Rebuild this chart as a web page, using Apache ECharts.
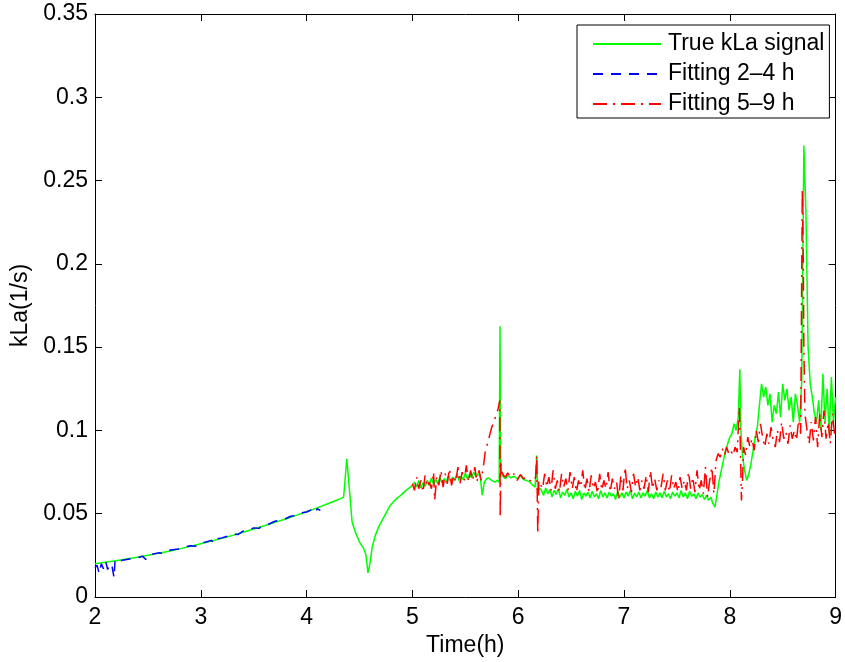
<!DOCTYPE html>
<html>
<head>
<meta charset="utf-8">
<title>kLa estimation</title>
<script src="https://cdn.jsdelivr.net/npm/echarts@6/dist/echarts.min.js"></script>
<style>
  html, body { margin: 0; padding: 0; background: #fff; }
  #chart { width: 845px; height: 662px; }
</style>
</head>
<body>
<div id="chart"></div>
<script>
// Axis ticks
const xTicks = [2, 3, 4, 5, 6, 7, 8, 9];
const yTickLabels = ['0', '0.05', '0.1', '0.15', '0.2', '0.25', '0.3', '0.35'];

// True kLa signal (time in h, kLa in 1/s)
const trueTime = [
  2.0, 2.1, 2.2, 2.3, 2.4, 2.5, 2.6, 2.7, 2.8, 2.9, 3.0, 3.1, 3.2, 3.3, 3.4, 3.5, 3.6, 3.7, 3.8, 3.9, 4.0, 4.1, 4.2, 4.3, 4.35,
  4.36, 4.38, 4.40, 4.43, 4.46, 4.50, 4.54, 4.56, 4.58, 4.60, 4.62, 4.65, 4.68, 4.73, 4.79, 4.84, 4.89, 4.94, 4.98,
  5.00, 5.02, 5.04, 5.06, 5.08, 5.10, 5.12, 5.14, 5.16, 5.18, 5.20, 5.22, 5.24, 5.26, 5.28, 5.30, 5.32, 5.34, 5.36, 5.38,
  5.40, 5.42, 5.44, 5.46, 5.48, 5.50, 5.52, 5.54, 5.56, 5.58, 5.60, 5.62, 5.64,
  5.66, 5.68, 5.70, 5.72, 5.75, 5.78, 5.80, 5.82, 5.828, 5.834, 5.84, 5.86, 5.88, 5.90, 5.93, 5.96, 5.99, 6.02, 6.05, 6.08,
  6.11, 6.14, 6.16, 6.175, 6.185, 6.20,
  6.22, 6.24, 6.26, 6.28, 6.30, 6.32, 6.34, 6.36, 6.38, 6.40, 6.42, 6.44, 6.46, 6.48, 6.50, 6.52, 6.54, 6.56, 6.58, 6.60,
  6.62, 6.64, 6.66, 6.68, 6.70, 6.72, 6.74, 6.76, 6.78, 6.80, 6.82, 6.84, 6.86, 6.88, 6.90, 6.92, 6.94, 6.96, 6.98, 7.00,
  7.02, 7.04, 7.06, 7.08, 7.10, 7.12, 7.14, 7.16, 7.18, 7.20, 7.22, 7.24, 7.26, 7.28, 7.30, 7.32, 7.34, 7.36, 7.38, 7.40,
  7.42, 7.44, 7.46, 7.48, 7.50, 7.52, 7.54, 7.56, 7.58, 7.60, 7.62, 7.64, 7.66, 7.68, 7.70, 7.72, 7.74, 7.76, 7.78, 7.80,
  7.82, 7.84, 7.86, 7.88, 7.90, 7.92, 7.94, 7.96, 7.98, 8.00, 8.02, 8.04, 8.06, 8.08, 8.095, 8.105, 8.12, 8.14, 8.16, 8.18,
  8.20, 8.22, 8.24, 8.26, 8.28, 8.30, 8.32, 8.34, 8.36, 8.38, 8.40, 8.42, 8.44, 8.46, 8.48, 8.50, 8.52, 8.54, 8.56, 8.58,
  8.60, 8.62, 8.64, 8.66, 8.68, 8.70, 8.72, 8.73, 8.74, 8.76, 8.78, 8.80, 8.82, 8.84, 8.86, 8.88, 8.90, 8.92, 8.94, 8.96,
  8.98, 9.00
];
const trueKla = [
  .0200, .0208, .0218, .0228, .0238, .0250, .0262, .0275, .0289, .0304, .0320, .0336, .0352, .0370, .0389, .0408, .0428, .0448, .0468, .0490, .0512, .0535, .0560, .0585, .0600,
  .0605, .0830, .0680, .0450, .0390, .0330, .0290, .0255, .0145, .0205, .0300, .0370, .0420, .0480, .0550, .0585, .0610, .0640, .0660,
  .0670, .0690, .0660, .0700, .0655, .0685, .0665, .0700, .0670, .0715, .0675, .0705, .0680, .0720, .0685, .0710, .0690, .0730, .0695, .0720,
  .0700, .0740, .0700, .0725, .0705, .0745, .0710, .0735, .0715, .0750, .0720, .0740, .0725,
  .0612, .0690, .0710, .0715, .0700, .0690, .0700, .0690, .1625, .0800, .0760, .0720, .0710, .0730, .0715, .0725, .0710, .0730, .0705, .0700,
  .0690, .0670, .0660, .0850, .0620, .0655,
  .0640, .0610, .0655, .0620, .0645, .0600, .0640, .0615, .0650, .0595, .0630, .0610, .0645, .0600, .0625, .0590, .0635, .0605, .0640, .0585,
  .0625, .0605, .0630, .0595, .0635, .0600, .0620, .0590, .0640, .0600, .0625, .0595, .0630, .0605, .0620, .0585, .0635, .0600, .0625, .0595,
  .0630, .0605, .0640, .0590, .0625, .0600, .0630, .0595, .0625, .0605, .0640, .0595, .0620, .0590, .0630, .0600, .0625, .0595, .0635, .0600,
  .0620, .0590, .0630, .0605, .0625, .0595, .0640, .0600, .0625, .0590, .0635, .0605, .0620, .0590, .0625, .0600, .0615, .0585, .0610, .0580,
  .0600, .0560, .0540, .0620, .0700, .0760, .0820, .0880, .0920, .0960, .0980, .1040, .1000, .1080, .1367, .1000, .0850, .0760, .0700, .0740,
  .0800, .0880, .0960, .1020, .1150, .1280, .1200, .1260, .1150, .1220, .1050, .1150, .1100, .1230, .1080, .1280, .1180, .1250, .1120, .1200,
  .1050, .1220, .1150, .1050, .1300, .2710, .2300, .1900, .1500, .1280, .1200, .1100, .1050, .1180, .1000, .1340, .1050, .1250, .0980, .1320,
  .1050, .1200
];

// Fitted estimate, 2-4 h window
const fitATime = [
  2.00, 2.02, 2.04, 2.06, 2.08, 2.10, 2.12, 2.14, 2.16, 2.18, 2.19, 2.22, 2.26, 2.30, 2.35, 2.40, 2.45, 2.48, 2.50, 2.55,
  2.60, 2.65, 2.70, 2.75, 2.80, 2.85, 2.90, 2.95, 3.00, 3.05, 3.10, 3.13, 3.16, 3.20, 3.25, 3.30, 3.35, 3.40, 3.45, 3.50,
  3.55, 3.60, 3.65, 3.70, 3.75, 3.80, 3.85, 3.90, 3.95, 4.00, 4.05, 4.08, 4.10, 4.13
];
const fitAKla = [
  .0175, .0190, .0140, .0200, .0170, .0215, .0165, .0200, .0190, .0115, .0225, .0215, .0220, .0225, .0232, .0235, .0245, .0225, .0250, .0258,
  .0265, .0262, .0280, .0285, .0288, .0300, .0308, .0305, .0325, .0330, .0340, .0322, .0350, .0355, .0365, .0378, .0375, .0395, .0400, .0415,
  .0412, .0435, .0440, .0455, .0460, .0470, .0485, .0490, .0505, .0510, .0525, .0505, .0530, .0520
];

// Fitted estimate, 5-9 h window
const fitBTime = [
  5.00, 5.02, 5.04, 5.06, 5.08, 5.10, 5.12, 5.14, 5.16, 5.18, 5.20, 5.21, 5.23, 5.25, 5.27, 5.29, 5.31, 5.33, 5.35, 5.37,
  5.39, 5.41, 5.43, 5.45, 5.47, 5.49, 5.51, 5.53, 5.55, 5.57, 5.59, 5.61, 5.63, 5.65, 5.67,
  5.69, 5.71, 5.73, 5.75, 5.77, 5.79, 5.81, 5.82, 5.826, 5.83, 5.836, 5.84, 5.86, 5.88, 5.90, 5.93, 5.96, 5.99, 6.02, 6.05,
  6.08, 6.11, 6.14, 6.165, 6.175, 6.185, 6.195,
  6.21, 6.23, 6.25, 6.27, 6.29, 6.31, 6.33, 6.35, 6.37, 6.39, 6.41, 6.43, 6.45, 6.47, 6.49, 6.51, 6.53, 6.55, 6.57, 6.59,
  6.61, 6.63, 6.65, 6.67, 6.69, 6.71, 6.73, 6.75, 6.77, 6.79, 6.81, 6.83, 6.85, 6.87, 6.89, 6.91, 6.93, 6.95, 6.97, 6.99,
  7.01, 7.03, 7.05, 7.07, 7.09, 7.11, 7.13, 7.15, 7.17, 7.19, 7.21, 7.23, 7.25, 7.27, 7.29, 7.31, 7.33, 7.35, 7.37, 7.39,
  7.41, 7.43, 7.45, 7.47, 7.49, 7.51, 7.53, 7.55, 7.57, 7.59, 7.61, 7.63, 7.65, 7.67, 7.69, 7.71, 7.73, 7.75, 7.77, 7.79,
  7.81, 7.83, 7.85, 7.87, 7.89, 7.91, 7.93, 7.95, 7.97, 7.99, 8.01, 8.03, 8.05, 8.07, 8.09, 8.10, 8.11, 8.12, 8.13, 8.15,
  8.17, 8.19, 8.21, 8.23, 8.25, 8.27, 8.29, 8.31, 8.33, 8.35, 8.37, 8.39, 8.41, 8.43, 8.45, 8.47, 8.49, 8.51, 8.53, 8.55,
  8.57, 8.59, 8.61, 8.63, 8.65, 8.67, 8.685, 8.695, 8.70, 8.71, 8.73, 8.75, 8.77, 8.79, 8.81, 8.83, 8.85, 8.87, 8.89, 8.91,
  8.93, 8.95, 8.97, 8.99, 9.00
];
const fitBKla = [
  .0680, .0640, .0720, .0650, .0700, .0630, .0730, .0660, .0690, .0650, .0750, .0580, .0720, .0670, .0760, .0660, .0740, .0680, .0770, .0670,
  .0730, .0690, .0780, .0680, .0750, .0700, .0790, .0690, .0760, .0700, .0780, .0690, .0760, .0700, .0780,
  .0880, .0920, .0970, .1020, .1050, .1090, .1130, .1160, .1180, .0480, .0820, .0760, .0730, .0720, .0745, .0720, .0740, .0700, .0735, .0710,
  .0720, .0700, .0690, .0720, .0850, .0380, .0700,
  .0700, .0650, .0740, .0660, .0720, .0640, .0760, .0650, .0700, .0630, .0740, .0660, .0710, .0640, .0750, .0650, .0720, .0630, .0700, .0660,
  .0760, .0640, .0710, .0630, .0730, .0650, .0690, .0620, .0740, .0640, .0700, .0650, .0750, .0630, .0710, .0650, .0690, .0580, .0730, .0640,
  .0780, .0650, .0700, .0630, .0740, .0660, .0720, .0640, .0700, .0650, .0730, .0630, .0760, .0650, .0710, .0640, .0700, .0660, .0740, .0640,
  .0700, .0630, .0730, .0650, .0690, .0630, .0720, .0650, .0700, .0640, .0750, .0650, .0720, .0630, .0760, .0640, .0700, .0620, .0780, .0600,
  .0700, .0780, .0620, .0820, .0860, .0840, .0890, .0850, .0900, .0860, .0880, .0850, .0900, .0870, .1140, .0900, .0580, .0700, .0900, .0850,
  .0960, .0900, .0950, .0880, .1000, .0930, .1040, .0960, .0900, .0980, .0920, .1020, .0940, .0900, .1000, .0930, .1050, .0950, .0990, .0920,
  .1030, .0950, .1000, .0940, .1060, .0980, .2450, .2000, .1500, .1100, .1000, .0920, .1050, .0940, .1080, .0900, .1100, .0960, .1120, .0950,
  .1050, .0920, .1100, .0980, .1000
];

function pairs(xs, ys) {
  return xs.map((x, i) => [x, ys[i]]);
}

const FONT = '"Liberation Sans", Arial, Helvetica, sans-serif';
const FS = 23;
const axisLine = { show: true, onZero: false, lineStyle: { color: '#000', width: 1 } };
const tickIn = { show: true, inside: true, length: 7, lineStyle: { color: '#000', width: 1 } };

const chart = echarts.init(document.getElementById('chart'), null, { renderer: 'canvas' });

chart.setOption({
  animation: false,
  backgroundColor: '#fff',
  textStyle: { fontFamily: FONT },
  grid: { left: 95, right: 6, top: 14, bottom: 61, containLabel: false },
  legend: {
    orient: 'vertical',
    left: 577,
    top: 25,
    padding: [7, 5, 2, 15],
    itemGap: 6,
    itemWidth: 68,
    itemHeight: 14,
    backgroundColor: '#fff',
    borderColor: '#000',
    borderWidth: 1,
    itemStyle: { opacity: 0 },
    textStyle: { fontFamily: FONT, fontSize: FS, lineHeight: 24, color: '#000', padding: [0, 0, 0, 2] },
    data: ['True kLa signal', 'Fitting 2\u20134 h', 'Fitting 5\u20139 h']
  },
  xAxis: [
    {
      type: 'value', min: xTicks[0], max: xTicks[xTicks.length - 1], interval: 1,
      position: 'bottom',
      name: 'Time(h)', nameLocation: 'middle', nameGap: 37,
      nameTextStyle: { fontFamily: FONT, fontSize: FS, color: '#000' },
      axisLine, axisTick: tickIn,
      axisLabel: { fontFamily: FONT, fontSize: FS, color: '#000', margin: 9 },
      splitLine: { show: false }
    },
    {
      type: 'value', min: xTicks[0], max: xTicks[xTicks.length - 1], interval: 1,
      position: 'top',
      axisLine, axisTick: tickIn,
      axisLabel: { show: false },
      splitLine: { show: false }
    }
  ],
  yAxis: [
    {
      type: 'value', min: 0, max: 0.35, interval: 0.05,
      position: 'left',
      name: 'kLa(1/s)', nameLocation: 'middle', nameGap: 61,
      nameTextStyle: { fontFamily: FONT, fontSize: FS, color: '#000' },
      axisLine, axisTick: tickIn,
      axisLabel: {
        fontFamily: FONT, fontSize: FS, color: '#000', margin: 7,
        formatter: v => yTickLabels[Math.round(v / 0.05)]
      },
      splitLine: { show: false }
    },
    {
      type: 'value', min: 0, max: 0.35, interval: 0.05,
      position: 'right',
      axisLine, axisTick: tickIn,
      axisLabel: { show: false },
      splitLine: { show: false }
    }
  ],
  series: [
    {
      name: 'True kLa signal', type: 'line', xAxisIndex: 0, yAxisIndex: 0,
      data: pairs(trueTime, trueKla),
      showSymbol: false, symbol: 'none',
      lineStyle: { color: '#00ff00', width: 1.5 },
      itemStyle: { color: '#00ff00' },
      z: 2
    },
    {
      name: 'Fitting 2\u20134 h', type: 'line', xAxisIndex: 0, yAxisIndex: 0,
      data: pairs(fitATime, fitAKla),
      showSymbol: false, symbol: 'none',
      lineStyle: { color: '#0000ff', width: 1.5, type: [10, 8] },
      itemStyle: { color: '#0000ff' },
      z: 3
    },
    {
      name: 'Fitting 5\u20139 h', type: 'line', xAxisIndex: 0, yAxisIndex: 0,
      data: pairs(fitBTime, fitBKla),
      showSymbol: false, symbol: 'none',
      lineStyle: { color: '#ff0000', width: 1.5, type: [14, 6, 2, 6] },
      itemStyle: { color: '#ff0000' },
      z: 4
    }
  ]
});
</script>
</body>
</html>
